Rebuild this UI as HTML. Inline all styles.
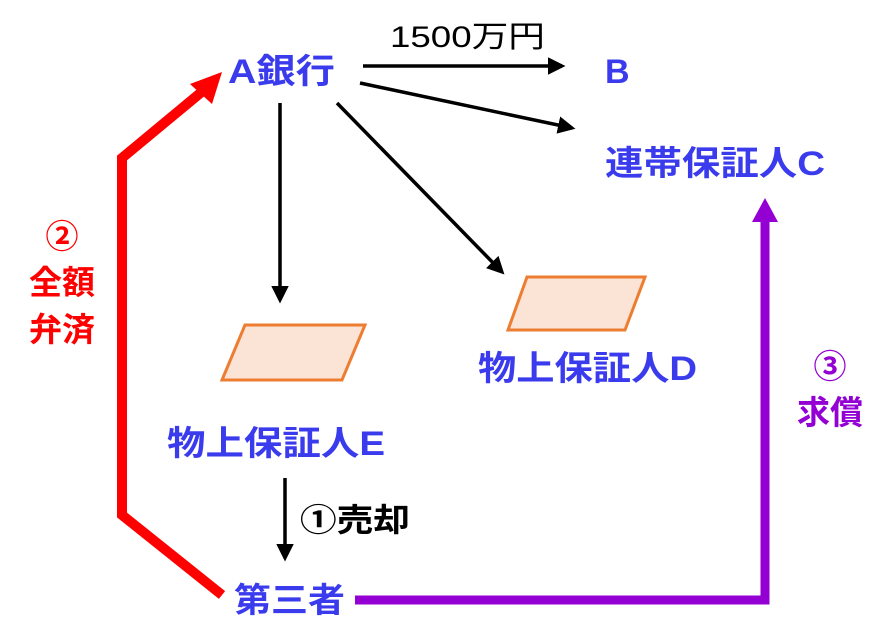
<!DOCTYPE html>
<html><head><meta charset="utf-8"><style>
html,body{margin:0;padding:0;background:#fff}
svg{display:block}
text{font-family:"Liberation Sans","Noto Sans CJK JP",sans-serif;font-weight:bold}
</style></head><body>
<svg width="891" height="644" viewBox="0 0 891 644" xmlns="http://www.w3.org/2000/svg">
<defs>
<marker id="ab" markerWidth="5" markerHeight="5" refX="4" refY="2.5" orient="auto" markerUnits="strokeWidth"><path d="M0,0 L5,2.5 L0,5 Z" fill="#000"/></marker>
</defs>
<g stroke="#000" stroke-width="3.5" fill="none">
<line x1="363" y1="66" x2="562" y2="66" marker-end="url(#ab)"/>
<line x1="360" y1="83" x2="572" y2="128" marker-end="url(#ab)"/>
<line x1="280" y1="103" x2="280" y2="300" marker-end="url(#ab)"/>
<line x1="337" y1="103" x2="502" y2="272" marker-end="url(#ab)"/>
<line x1="285" y1="478" x2="285" y2="558" marker-end="url(#ab)"/>
</g>
<polygon points="245,325 365,325 342,380 222,380" fill="#fbe3d6" stroke="#ed7d31" stroke-width="3"/>
<polygon points="527,277 645,277 625,330 508,330" fill="#fbe3d6" stroke="#ed7d31" stroke-width="3"/>
<polyline points="222,595 122,515 122,158 204,90" fill="none" stroke="#ff0000" stroke-width="10" stroke-linejoin="miter"/>
<polygon points="222,72 190,84 212,104" fill="#ff0000"/>
<polyline points="355,600 765,600 765,215" fill="none" stroke="#9400d3" stroke-width="9"/>
<polygon points="765,198 752,222 778,222" fill="#9400d3"/>
<text x="390" y="47" font-size="30" fill="#000" style="font-weight:normal" textLength="155" lengthAdjust="spacingAndGlyphs">1500万円</text>
<g fill="#3b3bee" font-size="34">
<text x="228" y="83" textLength="107" lengthAdjust="spacingAndGlyphs">A銀行</text>
<text x="605" y="83">B</text>
<text x="605" y="175" textLength="220" lengthAdjust="spacingAndGlyphs">連帯保証人C</text>
<text x="478" y="380" textLength="219" lengthAdjust="spacingAndGlyphs">物上保証人D</text>
<text x="167" y="455" textLength="218" lengthAdjust="spacingAndGlyphs">物上保証人E</text>
<text x="234" y="612" textLength="111" lengthAdjust="spacingAndGlyphs">第三者</text>
</g>
<text x="300" y="531" font-size="32" fill="#000" textLength="110" lengthAdjust="spacingAndGlyphs">①売却</text>
<g fill="#ff0000" font-size="33" text-anchor="middle">
<text x="62" y="248">②</text>
<text x="62" y="294">全額</text>
<text x="62" y="341">弁済</text>
</g>
<g fill="#9400d3" font-size="33" text-anchor="middle">
<text x="830" y="378">③</text>
<text x="830" y="424">求償</text>
</g>
</svg>
</body></html>
